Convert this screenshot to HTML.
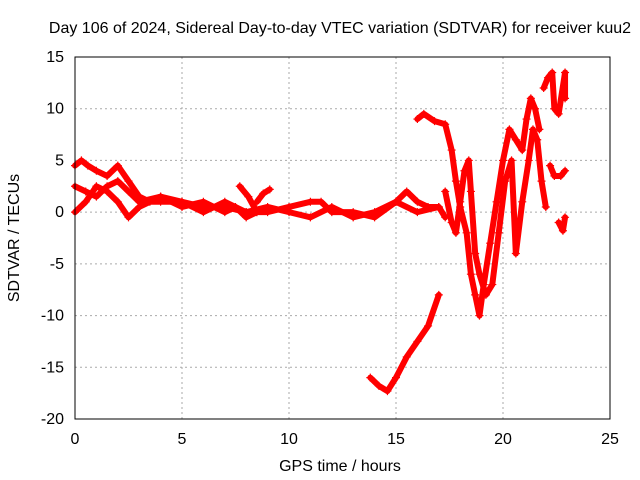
<!DOCTYPE html>
<html><head><meta charset="utf-8">
<style>
body{margin:0;background:#fff;}
svg{display:block;font-family:"Liberation Sans",sans-serif;}
</style></head>
<body>
<svg id="chart" width="640" height="480">
<rect width="640" height="480" fill="#fff"/>
<text x="340" y="33" font-size="16" text-anchor="middle">Day 106 of 2024, Sidereal Day-to-day VTEC variation (SDTVAR) for receiver kuu2</text>
<g id="grid"></g>
<g id="ticks"></g>
<g id="series"></g>
<rect x="75" y="57" width="535" height="362" fill="none" stroke="#000" stroke-width="1"/>
<text x="340" y="471" font-size="16" text-anchor="middle">GPS time / hours</text>
<text x="19" y="238" font-size="16" text-anchor="middle" transform="rotate(-90 19 238)">SDTVAR / TECUs</text>
</svg>
<script>
const xTicks=[0,5,10,15,20,25];
const yTicks=[15,10,5,0,-5,-10,-15,-20];
const trackA=[[0,4.5],[0.3,5],[0.6,4.5],[1,4],[1.5,3.5],[2,4.5],[2.5,3],[3,1.5],[3.5,1],[4,1],[5,1],[6,0.5],[7,0.5],[8,0],[9,0],[10,0.5],[11,1],[11.5,1],[12,0],[13,0],[14,-0.5],[15,1],[15.5,2],[16,1],[16.5,0.5],[17,0.5]];
const trackB=[[0,2.5],[0.5,2],[1,1.5],[1.5,2.5],[2,3],[2.5,2],[3,1],[4,1.5],[5,1],[6,0],[7,1],[8,0],[9,0.5],[10,0],[11,-0.5],[12,0.5],[13,-0.5],[14,0],[15,1],[16,0],[17,0.5],[17.3,-0.5]];
const trackC=[[0,0],[0.5,1],[1,2.5],[1.5,2],[2,1],[2.5,-0.5],[3,0.5],[4,1.5],[5,0.5],[6,1],[7,0],[7.5,0.5],[8,-0.5],[8.5,0]];
const trackD=[[7.7,2.5],[8.1,1.5],[8.5,0]];
const trackE=[[8.5,1],[8.8,1.8],[9.1,2.2]];
const trackF=[[13.8,-16],[14.2,-16.8],[14.6,-17.3],[15,-16],[15.5,-14],[16,-12.5],[16.5,-11],[17,-8]];
const trackG=[[16,9],[16.3,9.5],[16.8,8.8],[17.3,8.5],[17.6,6],[17.8,3],[18,0.5],[18.3,-2],[18.5,-6],[18.7,-8],[18.9,-10],[19.1,-7],[19.4,-3],[19.7,1],[20,5],[20.3,8],[20.6,7],[20.9,6],[21.1,9],[21.3,11],[21.5,10],[21.7,8]];
const trackH=[[17.3,2],[17.6,-1],[17.8,-2],[18,1],[18.2,4],[18.4,5],[18.5,2],[18.7,-4],[18.9,-6],[19.2,-8],[19.5,-7],[19.8,-2],[20.1,3],[20.4,5],[20.6,-4],[20.9,1],[21.2,5],[21.4,8],[21.6,7],[21.8,3],[22,0.5]];
const trackI=[[21.9,12],[22.1,13],[22.3,13.5],[22.4,10],[22.6,9.5],[22.9,13.5],[22.9,11]];
const trackJ=[[22.2,4.5],[22.4,3.5],[22.7,3.5],[22.9,4]];
const trackK=[[22.6,-1],[22.8,-1.8],[22.9,-0.5]];
const tracks=[trackA,trackB,trackC,trackD,trackE,trackF,trackG,trackH,trackI,trackJ,trackK];
const NS="http://www.w3.org/2000/svg";
const X=v=>75+v*535/25, Y=v=>57+(15-v)*362/35;
const grid=document.getElementById('grid'), ticks=document.getElementById('ticks'), ser=document.getElementById('series');
function mk(tag,attrs,parent){const e=document.createElementNS(NS,tag);for(const k in attrs)e.setAttribute(k,attrs[k]);parent.appendChild(e);return e;}
xTicks.forEach(t=>{
 if(t>0&&t<25){const g=mk('line',{x1:X(t),x2:X(t),y1:57,y2:419,stroke:'#aaa','stroke-dasharray':'2,3'},grid);
 
 }
 const l=mk('text',{x:X(t),y:444,'font-size':16,'text-anchor':'middle'},ticks);l.textContent=t;
 
 
});
yTicks.forEach(t=>{
 if(t<15&&t>-20){const g=mk('line',{x1:75,x2:610,y1:Y(t),y2:Y(t),stroke:'#aaa','stroke-dasharray':'2,3'},grid);
 
 }
 const l=mk('text',{x:64,y:Y(t)+5,'font-size':16,'text-anchor':'end'},ticks);l.textContent=t;
 
 
});
tracks.forEach((tr,i)=>{
 const p=mk('polyline',{points:tr.map(d=>X(d[0])+','+Y(d[1])).join(' '),fill:'none',stroke:'#f00','stroke-width':6,'stroke-linejoin':'round','stroke-linecap':'round'},ser);
 
 
 tr.forEach(d=>{
  const m=mk('path',{d:`M${X(d[0])-4},${Y(d[1])}h8M${X(d[0])},${Y(d[1])-4}v8`,stroke:'#f00','stroke-width':1.2},ser);
  
  
 });
});
</script>
</body></html>
